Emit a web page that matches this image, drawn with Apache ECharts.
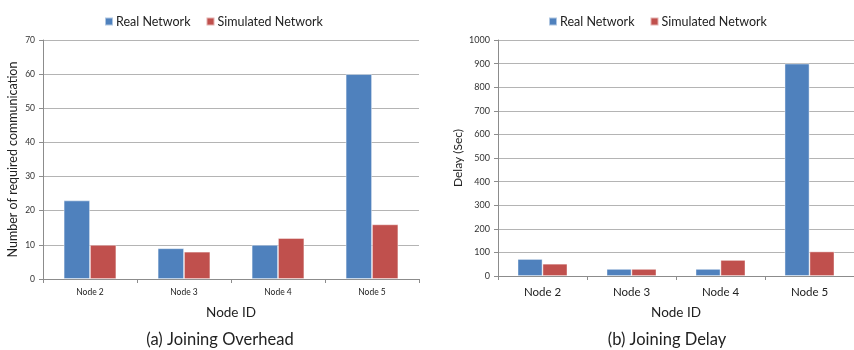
<!DOCTYPE html>
<html>
<head>
<meta charset="utf-8">
<script src="https://cdn.jsdelivr.net/npm/echarts@6/dist/echarts.min.js"></script>
<style>
  html, body { margin: 0; padding: 0; background: #fff; }
  #chart { width: 854px; height: 350px; }
</style>
</head>
<body>
<div id="chart"></div>
<script>
// Node labels shared by both panels
const nodes = ['Node 2', 'Node 3', 'Node 4', 'Node 5'];
const seriesNames = ['Real Network', 'Simulated Network'];

// (a) Joining overhead: number of required communications
const overheadReal = [23, 9, 10, 60];
const overheadSim = [10, 8, 12, 16];

// (b) Joining delay in seconds
const delayReal = [72, 30, 30, 900];
const delaySim = [52, 30, 68, 104];

const BLUE = '#4F81BD';
const RED = '#C0504D';
const FONT = 'Lato, "Open Sans", sans-serif';

const chart = echarts.init(document.getElementById('chart'));

function barSeries(name, data, gridIdx, color) {
  return {
    type: 'bar',
    name: name,
    data: data,
    xAxisIndex: gridIdx,
    yAxisIndex: gridIdx,
    barGap: '0%',
    barCategoryGap: '44%',
    itemStyle: { color: color, borderColor: 'rgba(255,255,255,0.55)', borderWidth: 0.8 },
    emphasis: { disabled: true },
    animation: false
  };
}

function xAxisCfg(gridIdx, fontSize) {
  return {
    type: 'category',
    gridIndex: gridIdx,
    data: nodes,
    name: 'Node ID',
    nameLocation: 'middle',
    nameGap: gridIdx === 0 ? 27 : 30,
    nameTextStyle: { fontFamily: FONT, fontSize: 13.5, color: '#222' },
    axisLine: { lineStyle: { color: '#8c8c8c', width: 1 } },
    axisTick: { show: true, length: 4, lineStyle: { color: '#8c8c8c' } },
    axisLabel: { fontFamily: FONT, fontSize: fontSize, color: '#222', margin: gridIdx === 0 ? 9 : 10 },
    splitLine: { show: false }
  };
}

function yAxisCfg(gridIdx, max, interval, name, nameGap, fontSize, nameSize) {
  return {
    type: 'value',
    gridIndex: gridIdx,
    min: 0,
    max: max,
    interval: interval,
    name: name,
    nameLocation: 'middle',
    nameGap: nameGap,
    nameRotate: 90,
    nameTextStyle: { fontFamily: FONT, fontSize: nameSize, color: '#222' },
    axisLine: { show: true, lineStyle: { color: '#8c8c8c', width: 1 } },
    axisTick: { show: true, length: 4, lineStyle: { color: '#8c8c8c' } },
    axisLabel: { fontFamily: FONT, fontSize: fontSize, color: '#333', margin: 8,
                 formatter: function (v) { return String(v); } },
    splitLine: { lineStyle: { color: '#b4b4b4', width: 1 } }
  };
}

chart.setOption({
  animation: false,
  backgroundColor: '#fff',
  title: [
    { text: '(a) Joining Overhead', left: 215, top: 326, textAlign: 'center',
      textStyle: { fontFamily: FONT, fontSize: 16.5, fontWeight: 'normal', color: '#222' } },
    { text: '(b) Joining Delay', left: 662, top: 326, textAlign: 'center',
      textStyle: { fontFamily: FONT, fontSize: 16.5, fontWeight: 'normal', color: '#222' } }
  ],
  legend: [
    { left: 99, top: 10, itemWidth: 8, itemHeight: 8, itemGap: 15, icon: 'rect',
      data: seriesNames, textStyle: { fontFamily: FONT, fontSize: 12.5, color: '#222', padding: [0, 0, 0, -2] } },
    { left: 543, top: 10, itemWidth: 8, itemHeight: 8, itemGap: 15, icon: 'rect',
      data: seriesNames, textStyle: { fontFamily: FONT, fontSize: 12.5, color: '#222', padding: [0, 0, 0, -2] } }
  ],
  grid: [
    { left: 43, top: 40, width: 376, height: 239 },
    { left: 498, top: 40, width: 364, height: 236 }
  ],
  xAxis: [xAxisCfg(0, 8.5), xAxisCfg(1, 11.5)],
  yAxis: [
    yAxisCfg(0, 70, 10, 'Number of required communication', 24, 8.5, 12.5),
    yAxisCfg(1, 1000, 100, 'Delay (Sec)', 34, 9, 12)
  ],
  series: [
    barSeries(seriesNames[0], overheadReal, 0, BLUE),
    barSeries(seriesNames[1], overheadSim, 0, RED),
    barSeries(seriesNames[0], delayReal, 1, BLUE),
    barSeries(seriesNames[1], delaySim, 1, RED)
  ]
});
</script>
</body>
</html>
